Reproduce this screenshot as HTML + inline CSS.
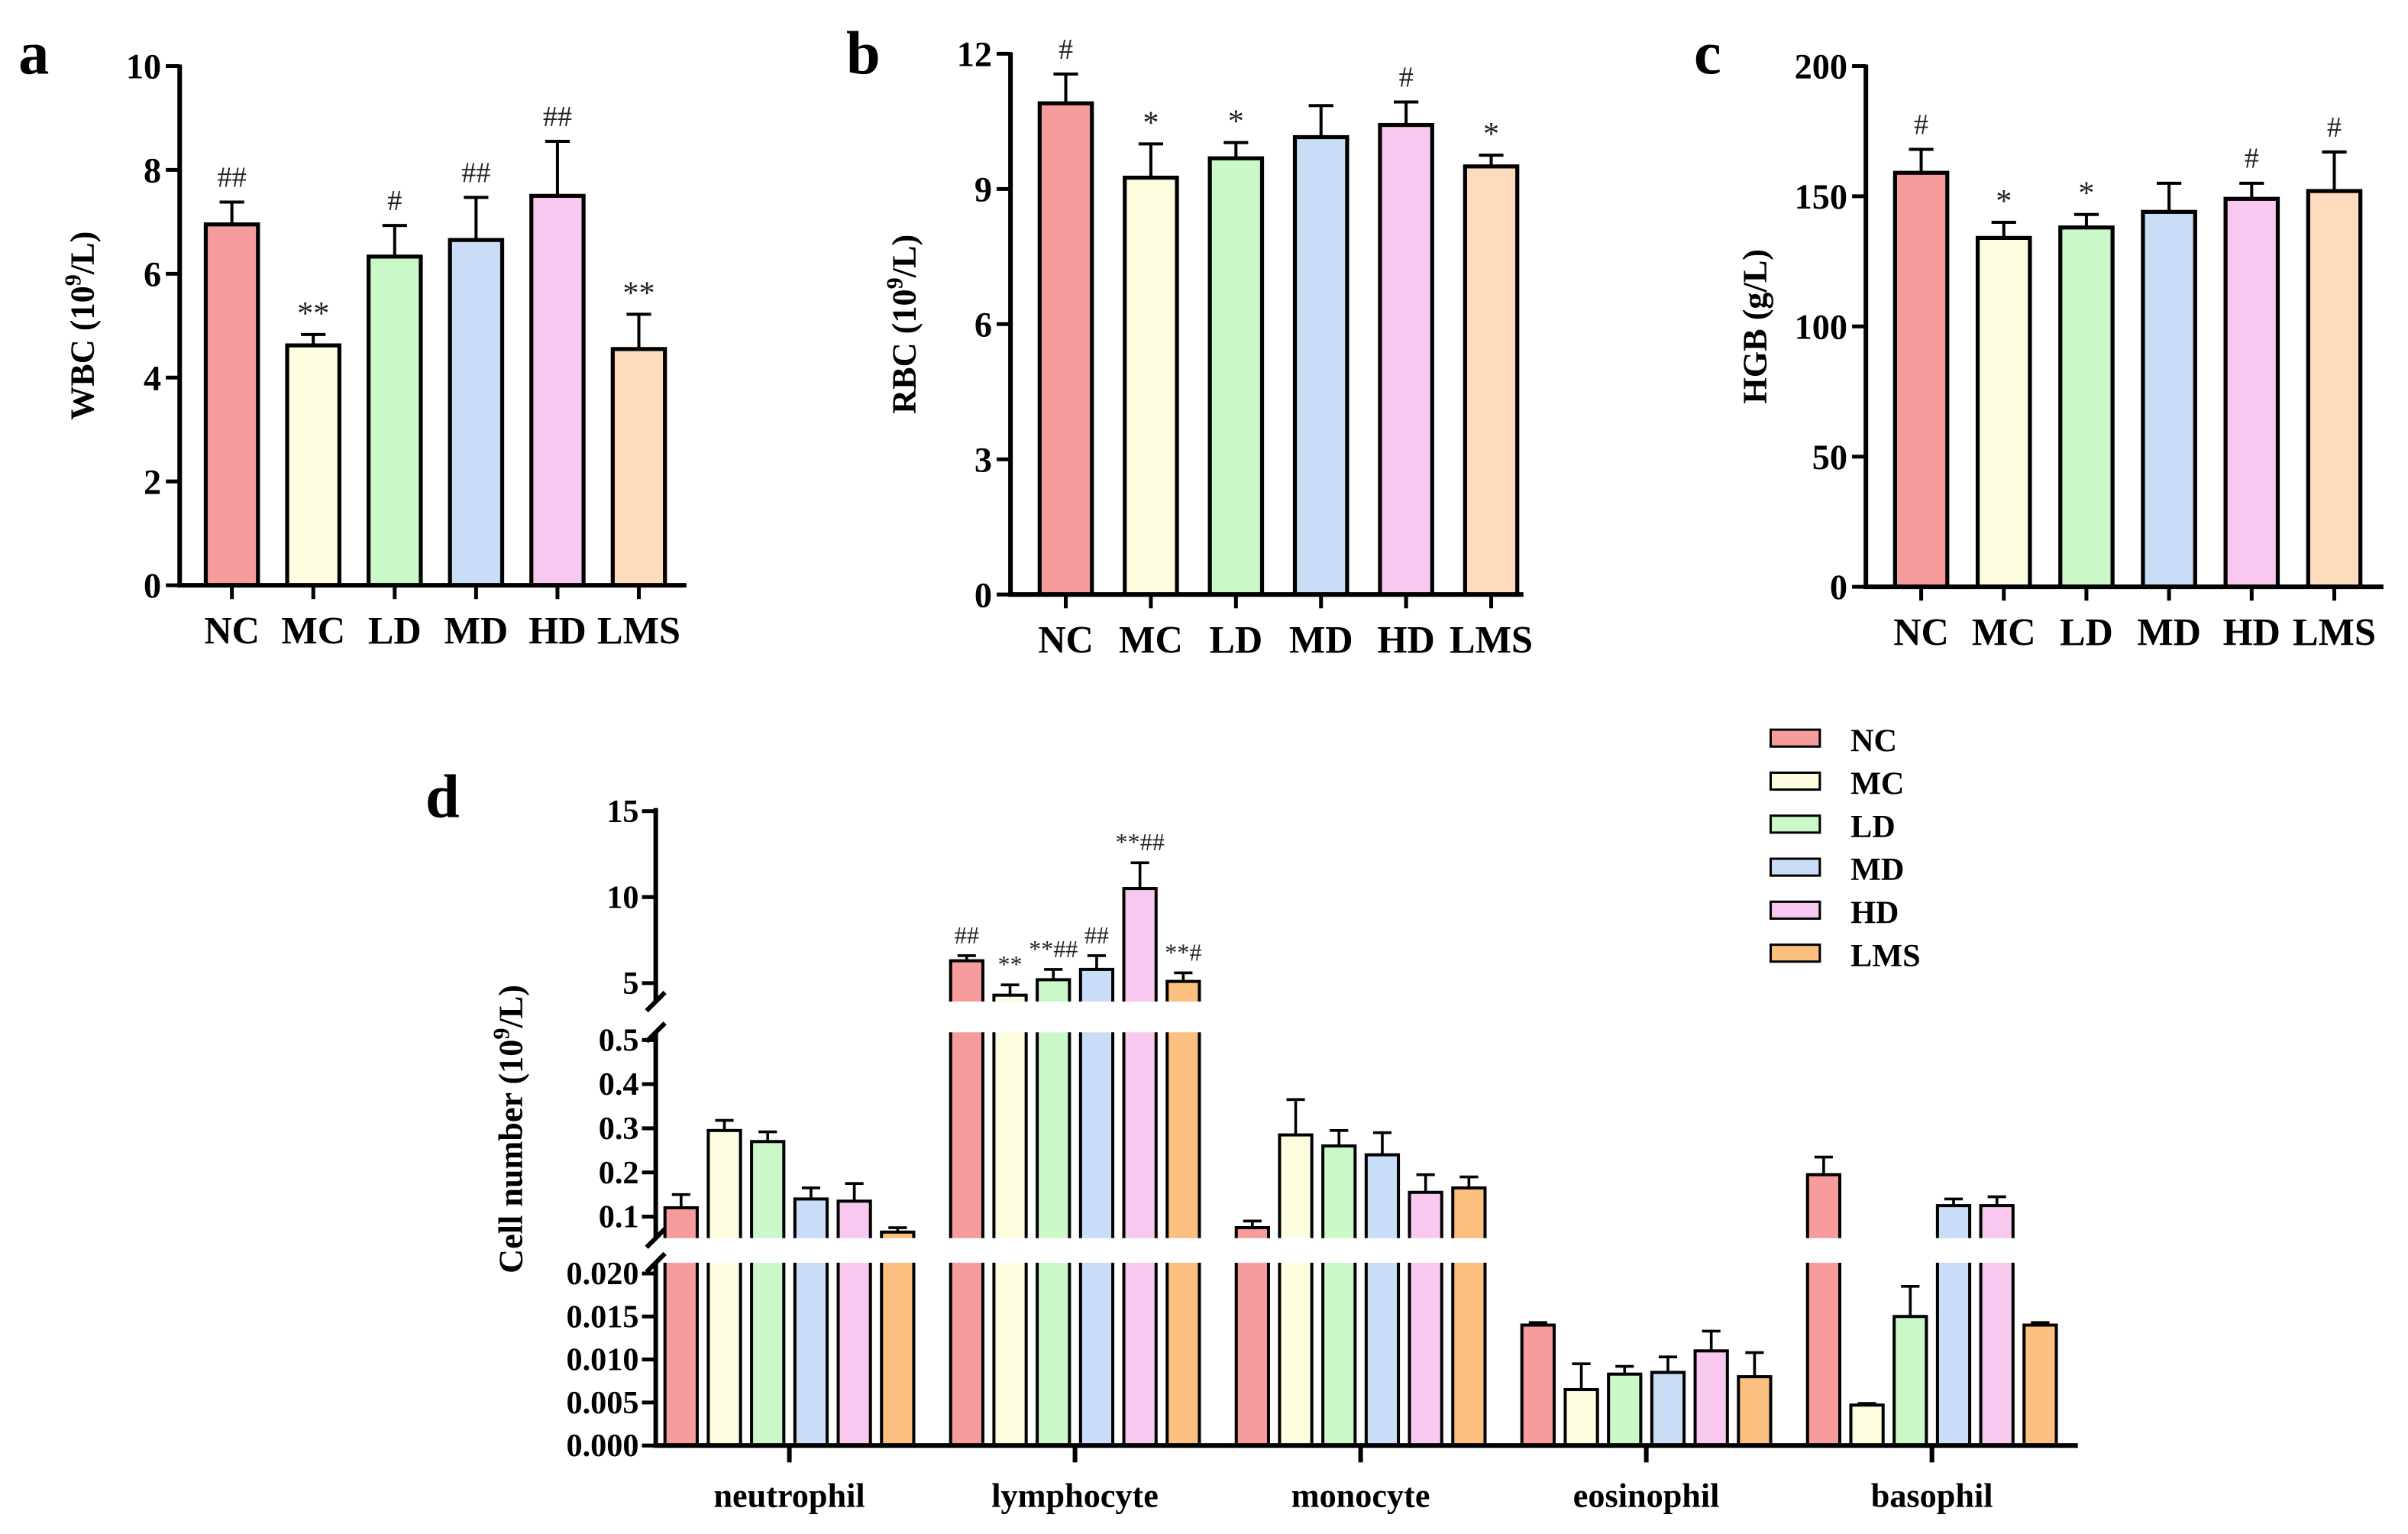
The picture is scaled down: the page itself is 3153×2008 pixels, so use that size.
<!DOCTYPE html>
<html><head><meta charset="utf-8"><style>
html,body{margin:0;padding:0;background:#fff;}
svg{display:block;font-family:"Liberation Serif",serif;font-weight:bold;}
</style></head><body>
<svg id="fig" width="3153" height="2008" viewBox="0 0 1568 998.6" preserveAspectRatio="none" xmlns="http://www.w3.org/2000/svg"></svg>
<script>
const groups=["NC","MC","LD","MD","HD","LMS"];
const fillsABC=["#f79c9c","#fefde0","#caf8c9","#c9ddf6","#f9c8ef","#fcdcbc"];
const fillsD=["#f79c9c","#fefde0","#caf8c9","#c9ddf6","#f9c8ef","#fbbf80"];
const aValues=[6.95,4.62,6.33,6.65,7.5,4.55];
const aErrTop=[7.38,4.83,6.93,7.47,8.55,5.22];
const aAnnot=["##","**","#","##","##","**"];
const aTicks=[0,2,4,6,8,10];
const bValues=[10.9,9.25,9.68,10.15,10.42,9.5];
const bErrTop=[11.55,10.0,10.03,10.85,10.93,9.75];
const bAnnot=["#","*","*","","#","*"];
const bTicks=[0,3,6,9,12];
const cValues=[159,134,138,144,149,152];
const cErrTop=[168,140,143,155,155,167];
const cAnnot=["#","*","*","","#","#"];
const cTicks=[0,50,100,150,200];
const dCategories=["neutrophil","lymphocyte","monocyte","eosinophil","basophil"];
const dNeutrophil=[0.12,0.295,0.27,0.14,0.135,0.065];
const dNeutrophilErr=[0.15,0.318,0.292,0.165,0.175,0.075];
const dLymphocyte=[6.3,4.3,5.2,5.8,10.5,5.1];
const dLymphocyteErr=[6.6,4.9,5.8,6.6,12.0,5.6];
const dMonocyte=[0.075,0.285,0.26,0.24,0.155,0.165];
const dMonocyteErr=[0.09,0.365,0.295,0.29,0.195,0.19];
const dEosinophil=[0.014,0.0065,0.0083,0.0085,0.011,0.008];
const dEosinophilErr=[0.0143,0.0095,0.0092,0.0103,0.0133,0.0108];
const dBasophil=[0.195,0.0047,0.015,0.125,0.125,0.014];
const dBasophilErr=[0.235,0.0049,0.0185,0.14,0.145,0.0143];
const dLymphAnnot=["##","**","**##","##","**##","**#"];
const dTicksUpper=[5,10,15];
const dTicksMid=[0.1,0.2,0.3,0.4,0.5];
const dTicksLower=[0,0.005,0.010,0.015,0.020];

const svg=document.getElementById('fig');
const NS="http://www.w3.org/2000/svg";
function mk(tag,attrs,parent){const e=document.createElementNS(NS,tag);for(const k in attrs)e.setAttribute(k,attrs[k]);(parent||svg).appendChild(e);return e;}
function txt(s,attrs,parent){const e=mk('text',attrs,parent);e.textContent=s;return e;}

function simplePanel(o){
  const g=mk('g',{});
  
  
  const y=v=>o.yZero-(v/o.max)*(o.yZero-o.yTop);
  const xs=i=>o.x1+i*o.dx;
  o.vals.forEach((v,i)=>{
    const cx=xs(i),w=34;
    const eb=mk('path',{d:`M${cx} ${y(v)}V${y(o.err[i])}M${cx-8} ${y(o.err[i])}H${cx+8}`,stroke:'#000','stroke-width':2,fill:'none'},g);
    
    
    const r=mk('rect',{x:cx-w/2,y:y(v),width:w,height:o.yZero-y(v),fill:fillsABC[i],stroke:'#000','stroke-width':2.6},g);
    
    
    if(o.annot[i]){const a=txt(o.annot[i],{x:cx,y:y(o.err[i])-(o.annot[i].includes('*')?7:10),'text-anchor':'middle','font-size':o.annot[i].includes('*')?21:19,'font-weight':'normal',fill:'#222'},g);
      
      }
    mk('line',{x1:cx,x2:cx,y1:o.yZero,y2:o.yZero+9,stroke:'#000','stroke-width':2.5},g);
    const l=txt(groups[i],{x:cx,y:o.yZero+38,'text-anchor':'middle','font-size':25},g);
    
    
  });
  const ax=mk('path',{d:`M${o.ax} ${o.yTop-1}V${o.yZero}H${o.xEnd}`,stroke:'#000','stroke-width':3,fill:'none'},g);
  
  
  o.ticks.forEach(t=>{
    mk('line',{x1:o.ax-9,x2:o.ax,y1:y(t),y2:y(t),stroke:'#000','stroke-width':2.5},g);
    const tl=txt(String(t),{x:o.ax-12,y:y(t)+8,'text-anchor':'end','font-size':23},g);
    
    
  });
  const yl=mk('text',{x:0,y:0,transform:`translate(${o.labX},${(o.yTop+o.yZero)/2}) rotate(-90)`,'text-anchor':'middle','font-size':22},g);
  yl.innerHTML=o.label;
  
  
  const pl=txt(o.letter,{x:o.letX,y:48,'font-size':40},g);
  
  
}
simplePanel({name:'panel-a-wbc',ax:117,yTop:43,yZero:381,max:10,x1:151,dx:53,xEnd:447,vals:aValues,err:aErrTop,annot:aAnnot,ticks:aTicks,label:'WBC (10<tspan baseline-shift="super" font-size="15">9</tspan>/L)',labX:61,letter:'a',letX:12});
simplePanel({name:'panel-b-rbc',ax:658,yTop:35,yZero:387,max:12,x1:694,dx:55.4,xEnd:992,vals:bValues,err:bErrTop,annot:bAnnot,ticks:bTicks,label:'RBC (10<tspan baseline-shift="super" font-size="15">9</tspan>/L)',labX:596,letter:'b',letX:551});
simplePanel({name:'panel-c-hgb',ax:1215,yTop:43,yZero:382,max:200,x1:1251,dx:53.8,xEnd:1552,vals:cValues,err:cErrTop,annot:cAnnot,ticks:cTicks,label:'HGB (g/L)',labX:1150,letter:'c',letX:1103});

// Panel d
const dg=mk('g',{});


const AX=427,Y0=941,XEND=1353;
const SEG={lowTop:822,midBot:806,midTop:672,upBot:652};
function yD(v){
  if(v<=0.0213) return Y0-v/0.02*112;
  if(v<=0.55) return 792-(v-0.1)*287.5;
  return 640-(v-5)*11.2;
}
const dSeries=[[dNeutrophil,dNeutrophilErr],[dLymphocyte,dLymphocyteErr],[dMonocyte,dMonocyteErr],[dEosinophil,dEosinophilErr],[dBasophil,dBasophilErr]];
const gc=i=>514+i*186;
dSeries.forEach((s,gi)=>{
  s[0].forEach((v,i)=>{
    const cx=gc(gi)+(i-2.5)*28.2,w=21,yt=yD(v),ye=yD(s[1][i]);
    const eb=mk('path',{d:`M${cx} ${yt}V${ye}M${cx-6} ${ye}H${cx+6}`,stroke:'#000','stroke-width':1.8,fill:'none'},dg);
    
    
    const r=mk('rect',{x:cx-w/2,y:yt,width:w,height:Y0-yt,fill:fillsD[i],stroke:'#000','stroke-width':2},dg);
    
    
    if(gi===1){const a=txt(dLymphAnnot[i],{x:cx,y:ye-8,'text-anchor':'middle','font-size':16,'font-weight':'normal',fill:'#222'},dg);
      
      }
  });
});
mk('rect',{x:AX-12,y:SEG.upBot,width:XEND-AX+14,height:SEG.midTop-SEG.upBot,fill:'#fff'},dg);
mk('rect',{x:AX-12,y:SEG.midBot,width:XEND-AX+14,height:SEG.lowTop-SEG.midBot,fill:'#fff'},dg);
const dax=mk('path',{d:`M${AX} 526V${SEG.upBot}M${AX} ${SEG.midTop}V${SEG.midBot}M${AX} ${SEG.lowTop}V${Y0}H${XEND}`,stroke:'#000','stroke-width':3,fill:'none'},dg);


mk('path',{d:`M${AX-6} ${SEG.upBot+6}L${AX+6} ${SEG.upBot-6}M${AX-6} ${SEG.midTop+6}L${AX+6} ${SEG.midTop-6}M${AX-6} ${SEG.midBot+6}L${AX+6} ${SEG.midBot-6}M${AX-6} ${SEG.lowTop+6}L${AX+6} ${SEG.lowTop-6}`,stroke:'#000','stroke-width':3},dg);
function dTick(t,lab){
  const y=yD(t);
  mk('line',{x1:AX-9,x2:AX,y1:y,y2:y,stroke:'#000','stroke-width':2.5},dg);
  const tl=txt(lab,{x:AX-11,y:y+7,'text-anchor':'end','font-size':21},dg);
  
  
}
dTicksUpper.forEach(t=>dTick(t,String(t)));
dTicksMid.forEach(t=>dTick(t,t.toFixed(1)));
dTicksLower.forEach(t=>dTick(t,t.toFixed(3)));
dCategories.forEach((c,gi)=>{
  mk('line',{x1:gc(gi),x2:gc(gi),y1:Y0,y2:Y0+11,stroke:'#000','stroke-width':3},dg);
  const l=txt(c,{x:gc(gi),y:Y0+40,'text-anchor':'middle','font-size':22},dg);
  
  
});
const dyl=mk('text',{transform:`translate(340,735) rotate(-90)`,'text-anchor':'middle','font-size':22},dg);
dyl.innerHTML='Cell number (10<tspan baseline-shift="super" font-size="15">9</tspan>/L)';


const dl=txt('d',{x:277,y:532,'font-size':40},dg);


const lg=mk('g',{});


groups.forEach((g,i)=>{
  const y=481+i*28;
  const e=mk('g',{},lg);
  
  
  mk('rect',{x:1153,y:y-6,width:32,height:11,fill:fillsD[i],stroke:'#000','stroke-width':1.5},e);
  txt(g,{x:1205,y:y+8,'font-size':21},e);
});
</script>
</body></html>
